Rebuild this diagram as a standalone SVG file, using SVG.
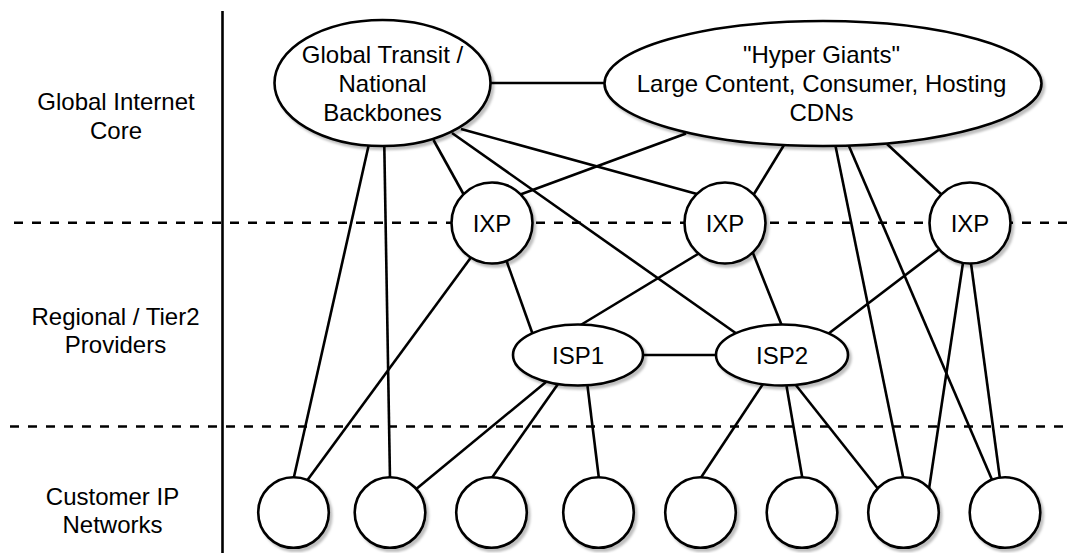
<svg xmlns="http://www.w3.org/2000/svg" width="1072" height="553" viewBox="0 0 1072 553">
  <defs>
    <filter id="shadow" x="-10%" y="-10%" width="125%" height="130%">
      <feDropShadow dx="2.5" dy="3" stdDeviation="1.2" flood-color="#000" flood-opacity="0.25"/>
    </filter>
    <style>
      .node { fill: #fff; stroke: #000; stroke-width: 2.6; filter: url(#shadow); }
      .edge { stroke: #000; stroke-width: 2.6; fill: none; stroke-linecap: butt; }
      .divider { stroke: #000; stroke-width: 2.6; stroke-dasharray: 9 9; fill: none; }
      .axis { stroke: #000; stroke-width: 2.6; fill: none; }
      text { font-family: "Liberation Sans", Arial, Helvetica, sans-serif; font-size: 24px; fill: #000; text-anchor: middle; }
    </style>
  </defs>
  <rect width="1072" height="553" fill="#fff"/>

  <!-- tier labels -->
  <g id="tier-labels">
    <text x="116" y="110">Global Internet</text>
    <text x="116" y="139">Core</text>
    <text x="115.5" y="325">Regional / Tier2</text>
    <text x="115.5" y="353">Providers</text>
    <text x="112.5" y="505">Customer IP</text>
    <text x="112.5" y="533">Networks</text>
  </g>

  <!-- layout guides -->
  <g id="guides">
    <line class="axis" x1="222.5" y1="11" x2="222.5" y2="553"/>
    <line class="divider" x1="14" y1="222.7" x2="1072" y2="222.7"/>
    <line class="divider" x1="10" y1="426.5" x2="1072" y2="426.5"/>
  </g>

  <!-- connectors -->
  <g id="connectors" class="edge">
    <line x1="488" y1="83" x2="607" y2="83"/>
    <line x1="368.5" y1="146" x2="293.5" y2="479"/>
    <line x1="384.3" y1="146" x2="390" y2="479"/>
    <line x1="433.5" y1="140" x2="464" y2="195"/>
    <line x1="452" y1="133" x2="737" y2="334"/>
    <line x1="461" y1="129" x2="697" y2="194"/>
    <line x1="686" y1="133.5" x2="519" y2="195"/>
    <line x1="784" y1="145" x2="754" y2="194"/>
    <line x1="835.5" y1="146" x2="903.5" y2="479"/>
    <line x1="848.5" y1="145" x2="993" y2="482"/>
    <line x1="887" y1="144" x2="942" y2="195"/>
    <line x1="472" y1="256" x2="306" y2="482"/>
    <line x1="503" y1="251" x2="533" y2="335"/>
    <line x1="698" y1="254" x2="579" y2="326"/>
    <line x1="751" y1="248" x2="782" y2="326"/>
    <line x1="941" y1="248" x2="828" y2="334"/>
    <line x1="964" y1="256" x2="929" y2="489"/>
    <line x1="970" y1="256" x2="1000" y2="479"/>
    <line x1="640" y1="355" x2="719" y2="355"/>
    <line x1="546" y1="382" x2="415" y2="490"/>
    <line x1="558" y1="384" x2="491" y2="479"/>
    <line x1="587.5" y1="386" x2="599" y2="479"/>
    <line x1="763" y1="384" x2="700" y2="479"/>
    <line x1="786.5" y1="386" x2="802.5" y2="479"/>
    <line x1="795" y1="384" x2="879" y2="490"/>
  </g>

  <!-- core -->
  <g id="global-transit">
    <ellipse class="node" cx="382.5" cy="83" rx="108" ry="63"/>
    <text x="382.5" y="63">Global Transit /</text>
    <text x="382.5" y="92">National</text>
    <text x="382.5" y="121">Backbones</text>
  </g>
  <g id="hyper-giants">
    <ellipse class="node" cx="823" cy="83.5" rx="218.5" ry="62.5"/>
    <text x="821.5" y="63">"Hyper Giants"</text>
    <text x="821.5" y="92">Large Content, Consumer, Hosting</text>
    <text x="821.5" y="121">CDNs</text>
  </g>

  <!-- exchange points -->
  <g id="ixp-1">
    <circle class="node" cx="492" cy="223" r="40.5"/>
    <text x="492" y="231.5">IXP</text>
  </g>
  <g id="ixp-2">
    <circle class="node" cx="725" cy="223" r="40.5"/>
    <text x="725" y="231.5">IXP</text>
  </g>
  <g id="ixp-3">
    <circle class="node" cx="970" cy="223" r="40.5"/>
    <text x="970" y="231.5">IXP</text>
  </g>

  <!-- regional providers -->
  <g id="isp-1">
    <ellipse class="node" cx="578" cy="355" rx="65" ry="30.5"/>
    <text x="578" y="364">ISP1</text>
  </g>
  <g id="isp-2">
    <ellipse class="node" cx="782" cy="355" rx="66" ry="30.5"/>
    <text x="782" y="364">ISP2</text>
  </g>

  <!-- customer networks -->
  <g id="customer-1"><circle class="node" cx="293.5" cy="512.5" r="35.3"/></g>
  <g id="customer-2"><circle class="node" cx="390" cy="512.5" r="35.3"/></g>
  <g id="customer-3"><circle class="node" cx="491.5" cy="512.5" r="35.3"/></g>
  <g id="customer-4"><circle class="node" cx="598.5" cy="512.5" r="35.3"/></g>
  <g id="customer-5"><circle class="node" cx="700.5" cy="512.5" r="35.3"/></g>
  <g id="customer-6"><circle class="node" cx="802" cy="512.5" r="35.3"/></g>
  <g id="customer-7"><circle class="node" cx="903.5" cy="512.5" r="35.3"/></g>
  <g id="customer-8"><circle class="node" cx="1005" cy="512.5" r="35.3"/></g>
</svg>
